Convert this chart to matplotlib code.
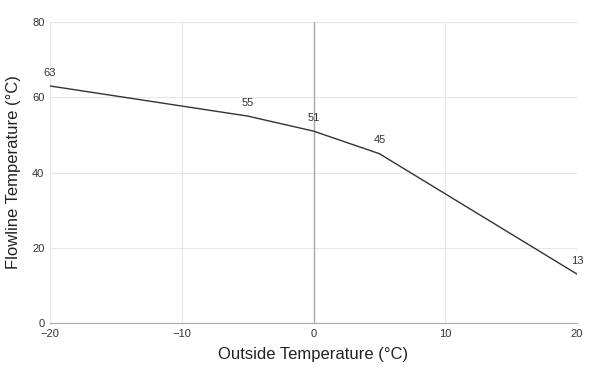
import matplotlib
matplotlib.use("Agg")
import matplotlib.pyplot as plt

outside = [-20, -5, 0, 5, 20]
flow = [63, 55, 51, 45, 13]
xticks = [-20, -10, 0, 10, 20]
yticks = [0, 20, 40, 60, 80]

plt.rcParams['font.family'] = ['Liberation Sans', 'DejaVu Sans']
fig = plt.figure(figsize=(6.07, 3.73), dpi=100)
ax = fig.add_axes([0.0824, 0.134, 0.8682, 0.807])
ax.set_xlim(-20, 20)
ax.set_ylim(0, 80)
ax.set_xticks(xticks)
ax.set_yticks(yticks)
ax.grid(True, color='#e6e6e6', linewidth=0.8)
ax.set_axisbelow(True)
for s in ['top', 'right', 'left']:
    ax.spines[s].set_visible(False)
ax.spines['bottom'].set_color('#aaaaaa')
ax.axvline(0, color='#aaaaaa', linewidth=1.0, zorder=1)
ax.tick_params(length=0, labelsize=8, colors='#333333', pad=4)
ax.plot(outside, flow, color='#333333', linewidth=1.0, zorder=3)
for x, y in zip(outside, flow):
    ax.annotate(str(y), (x, y), xytext=(0, 6), textcoords='offset points',
                ha='center', va='bottom', fontsize=8, color='#333333')
ax.set_xlabel('Outside Temperature (°C)', fontsize=12, color='#222222', labelpad=6)
ax.set_ylabel('Flowline Temperature (°C)', fontsize=12, color='#222222', labelpad=8)
fig.savefig('out.png', dpi=100)
